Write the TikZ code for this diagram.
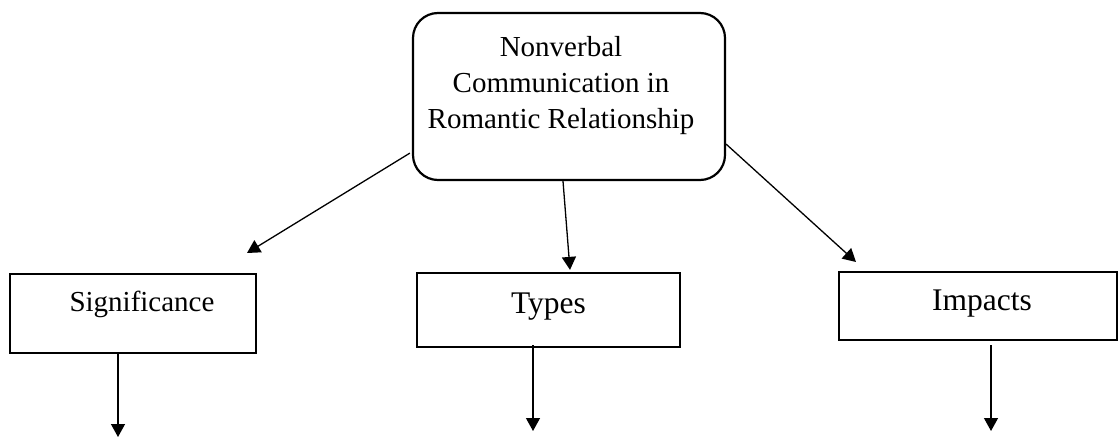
\documentclass[tikz,border=0pt]{standalone}
\usepackage{fontspec}
\setmainfont{Liberation Serif}
\usetikzlibrary{arrows.meta,calc}
\begin{document}
\begin{tikzpicture}[x=1pt,y=-1pt,
  box/.style={draw, line width=2.2pt, inner xsep=0pt, inner ysep=0pt, anchor=base},
  arr/.style={line width=1.3pt, -{Triangle[length=13pt,width=14pt]}}]
\useasboundingbox (0,0) rectangle (1119,438);
\fill[white] (0,0) rectangle (1119,438);
% central rounded box
\node[draw, line width=2.2pt, rounded corners=25pt, inner sep=0pt] (c) at (569,96.5)
  {\parbox[c][167pt][t]{312pt}{\fontsize{29}{36}\selectfont\centering
   \leftskip=0pt plus 1fil\rightskip=16pt plus 1fil
   \vspace*{18.8pt}\strut Nonverbal\\Communication in\\Romantic Relationship}};
% second-level boxes
\node[box, minimum width=246pt, text height=38pt, text depth=41pt,
  font=\fontsize{29}{36}\selectfont] (s) at (133,312) {\hspace*{18pt}Significance};
\node[box, minimum width=263pt, text height=40pt, text depth=34pt,
  font=\fontsize{31.5}{38}\selectfont] (t) at (548.5,313) {Types};
\node[box, minimum width=278pt, text height=39pt, text depth=29pt,
  font=\fontsize{31.5}{38}\selectfont] (i) at (978,311) {\hspace*{8pt}Impacts};
% free ends
\coordinate (sl) at (247,253);
\coordinate (il) at (856,262);
\coordinate (se) at (118,437);
\coordinate (te) at (533,431);
\coordinate (ie) at (991,431);
% connectors
\draw[arr] ($(c.south west)+(-2,-28)$) -- (sl);
\draw[arr] ($(c.south)+(-6,0)$) -- ($(t.north)+(21.5,-2)$);
\draw[arr] ($(c.south east)+(0,-37)$) -- (il);
\draw[arr] (s.south -| se) -- (se);
\draw[arr] ($(t.south -| te)+(0,-3)$) -- (te);
\draw[arr] ($(i.south -| ie)+(0,4)$) -- (ie);
\end{tikzpicture}
\end{document}
